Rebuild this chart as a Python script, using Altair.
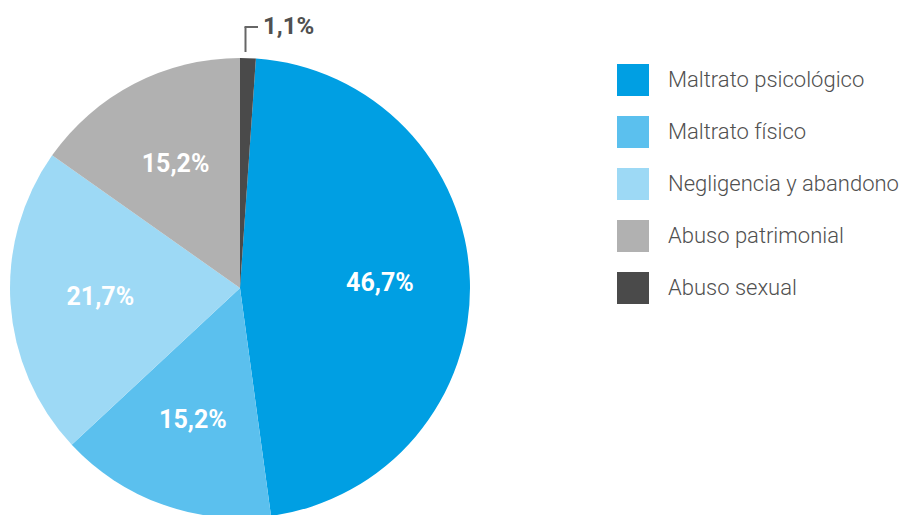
import altair as alt
import pandas as pd

categories = ["Maltrato psicológico", "Maltrato físico", "Negligencia y abandono",
              "Abuso patrimonial", "Abuso sexual"]
values = [46.7, 15.2, 21.7, 15.2, 1.1]
labels = ["46,7%", "15,2%", "21,7%", "15,2%", "1,1%"]
stack_order = [1, 2, 3, 4, 0]
colors = ["#009FE3", "#5BC0EE", "#9DD9F5", "#B1B1B1", "#4A4A4A"]

df = pd.DataFrame({"cat": categories, "value": values, "label": labels, "ord": stack_order})
df_small = df[df["value"] <= 5]

CX, CY, R = 232, 280, 230
FONT = "Roboto"

color = alt.Color("cat:N",
                  scale=alt.Scale(domain=categories, range=colors),
                  sort=categories,
                  legend=alt.Legend(title=None, orient="none", legendX=609, legendY=56,
                                    direction="vertical", symbolType="square",
                                    symbolSize=1024, symbolStrokeWidth=0,
                                    labelFontSize=22, labelFont=FONT, labelFontWeight=300,
                                    labelColor="#505050",
                                    rowPadding=20, labelOffset=19, labelLimit=400, padding=0))

base = alt.Chart(df).encode(
    theta=alt.Theta("value:Q", stack=True),
    order=alt.Order("ord:Q"),
)

arcs = base.mark_arc(outerRadius=R, strokeWidth=0).encode(
    color=color, x=alt.value(CX), y=alt.value(CY)
)

texts = base.mark_text(radius=140, font=FONT, fontSize=25, fontWeight="bold",
                       color="white", align="center", baseline="middle").encode(
    text="label:N", x=alt.value(CX), y=alt.value(CY),
    opacity=alt.condition(alt.datum.value > 5, alt.value(1), alt.value(0))
)

one = pd.DataFrame({"k": [0]})
rule_v = alt.Chart(one).mark_rule(color="#666666", strokeWidth=2).encode(
    x=alt.value(237.5), y=alt.value(44), y2=alt.value(19))
rule_h = alt.Chart(one).mark_rule(color="#666666", strokeWidth=2).encode(
    x=alt.value(236.5), x2=alt.value(250), y=alt.value(19))
small_label = alt.Chart(df_small).mark_text(font=FONT, fontSize=24, fontWeight="bold",
                                            color="#505050", align="left",
                                            baseline="alphabetic").encode(
    text="label:N", x=alt.value(255), y=alt.value(26))

chart = alt.layer(arcs, texts, rule_v, rule_h, small_label).properties(
    width=894, height=507, padding=0, autosize="none"
).configure_view(stroke=None)

chart.save("out.html", embed_options={"renderer": "svg", "actions": False})
